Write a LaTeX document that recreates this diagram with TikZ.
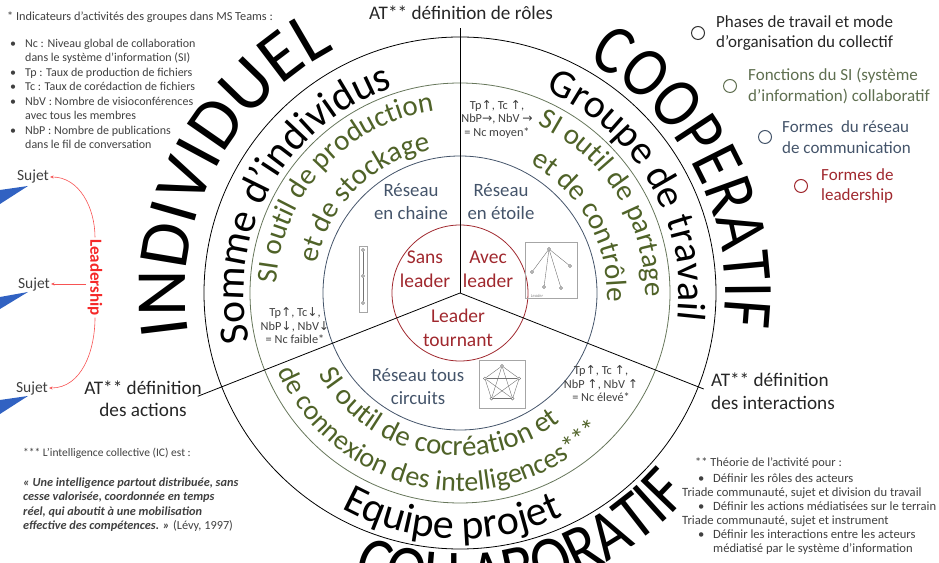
\documentclass[tikz,border=0pt]{standalone}
\usepackage{fontspec}
\setmainfont{Carlito}
\newfontfamily\wordfont[FakeStretch=0.86]{Carlito}
\newfontfamily\arrowfont{DejaVu Sans}
\usetikzlibrary{positioning,calc,arrows.meta,decorations.text}

\definecolor{sigreen}{HTML}{4F6228}
\definecolor{ringgreen}{HTML}{66765A}
\definecolor{leggreen}{HTML}{5F6F50}
\definecolor{netblue}{HTML}{44546A}
\definecolor{leadred}{HTML}{A0282E}
\definecolor{shipred}{HTML}{F52828}
\definecolor{smallgray}{HTML}{404040}
\definecolor{triblue}{HTML}{3162C2}

\newcommand\ringcaps{\wordfont\fontsize{71}{71}\selectfont}
\newcommand\arUp{{\arrowfont\char"2191}}
\newcommand\arDn{{\arrowfont\char"2193}}
\newcommand\arRt{{\arrowfont\char"2192}}
\newcommand\bul{\makebox[15pt][l]{\textbullet}}

\begin{document}
\begin{tikzpicture}[x=1pt, y=1pt,
  ring/.style={line width=0.8pt},
  divider/.style={line width=0.8pt},
  arctext/.style={decorate, decoration={text along path, text align=center}},
  atlabel/.style={font=\fontsize{19.2}{22.5}\selectfont, text=black!85, inner sep=0pt},
  smalltext/.style={font=\fontsize{12}{14.5}\selectfont, text=smallgray, inner sep=0pt, align=left},
  legdot/.style={circle, draw, line width=1pt, minimum size=13pt, inner sep=0pt},
  legtext/.style={font=\fontsize{17}{20.5}\selectfont, align=left, inner sep=0pt},
  leadtext/.style={font=\fontsize{19.5}{24}\selectfont, text=leadred, align=center, inner sep=0pt},
  nettext/.style={font=\fontsize{18.8}{23}\selectfont, text=netblue, align=center, inner sep=0pt},
  indic/.style={font=\fontsize{12.3}{13.5}\selectfont, text=smallgray, align=center, inner sep=0pt},
  sujet/.style={font=\fontsize{15.5}{15.5}\selectfont, text=smallgray, inner sep=1pt},
  leadarrow/.style={draw=shipred!80, line width=0.6pt, -{Stealth[length=3.5pt, width=3pt]}},
  iconframe/.style={draw=black!35, line width=0.5pt, inner sep=0pt},
  icondot/.style={circle, draw=black!60, line width=0.4pt, minimum size=3pt, inner sep=0pt},
  iconline/.style={draw=black!55, line width=0.4pt}
]
\useasboundingbox (0,0) rectangle (939,562);
\clip (0,0) rectangle (939,562);
\coordinate (c) at (460,269);

% rings
\draw[ring] (c) circle[radius=256];
\draw[ring, draw=ringgreen] (c) circle[radius=210];
\draw[ring, draw=netblue] (c) circle[radius=137];
\draw[ring, draw=leadred] (c) circle[radius=68];

% dividers
\coordinate (eroles) at ($(c)+(90:265)$);
\coordinate (eactions) at ($(c)+(201.5:282)$);
\coordinate (einter) at ($(c)+(-21.5:262)$);
\draw[divider] (c) -- (eroles);
\draw[divider] (c) -- (eactions);
\draw[divider] (c) -- (einter);

% big words round the outside
\path[arctext, decoration={text={|\fontsize{72}{72}\selectfont|INDIVIDUEL}}] (c) ++(198:274) arc[start angle=198, end angle=108, radius=274];
\path[arctext, decoration={text={|\ringcaps|COOPERATIF}}] (c) ++(72:265) arc[start angle=72, end angle=-18, radius=265];
\path[arctext, decoration={text={|\wordfont\fontsize{70}{70}\selectfont|COLLABORATIF}}] (c) ++(229:306) arc[start angle=229, end angle=339, radius=306];

% outer ring
\path[arctext, decoration={text={|\fontsize{41.5}{41.5}\selectfont|Somme d’individus}}] (c) ++(201:216) arc[start angle=201, end angle=100, radius=216];
\path[arctext, decoration={text={|\fontsize{40}{40}\selectfont|Groupe de travail}}] (c) ++(80:219) arc[start angle=80, end angle=-20, radius=219];
\path[arctext, decoration={text={|\fontsize{42}{42}\selectfont|Equipe projet}}] (c) ++(226:246) arc[start angle=226, end angle=310, radius=246];

% green ring
\path[arctext, decoration={text={|\fontsize{29}{29}\selectfont\color{sigreen}|SI outil de production}}] (c) ++(187.5:184) arc[start angle=187.5, end angle=87.5, radius=184];
\path[arctext, decoration={text={|\fontsize{29}{29}\selectfont\color{sigreen}|et de stockage}}] (c) ++(175:146) arc[start angle=175, end angle=95, radius=146];
\path[arctext, decoration={text={|\fontsize{29}{29}\selectfont\color{sigreen}|SI outil de partage}}] (c) ++(72:185) arc[start angle=72, end angle=-8, radius=185];
\path[arctext, decoration={text={|\fontsize{29}{29}\selectfont\color{sigreen}|et de contrôle}}] (c) ++(69:147) arc[start angle=69, end angle=-11, radius=147];
\path[arctext, decoration={text={|\fontsize{29}{29}\selectfont\color{sigreen}|SI outil de cocréation et}}] (c) ++(196:163) arc[start angle=196, end angle=322, radius=163];
\path[arctext, decoration={text={|\fontsize{28}{28}\selectfont\color{sigreen}|de connexion des intelligences***}}] (c) ++(189:198) arc[start angle=189, end angle=330, radius=198];

% AT labels
\node[atlabel] (roles) at (461,549) {AT** définition de rôles};
\node[atlabel, align=center] (actions) at (143,163) {AT** définition\\des actions};
\node[atlabel, align=left, anchor=west] (inter) at (711,170.5) {AT** définition\\des interactions};

% network and leadership
\node[nettext] (chaine) at (411,360.5) {Réseau\\en chaine};
\node[nettext] (etoile) at (501,360.5) {Réseau\\en étoile};
\node[nettext] (tous) at (418,175.5) {Réseau tous\\circuits};
\node[leadtext] (sans) at (425,292.5) {Sans\\leader};
\node[leadtext] (avec) at (488,292.5) {Avec\\leader};
\node[leadtext] (tourn) at (458,234.5) {Leader\\tournant};

% indicators
\node[indic] (moyen) at (497,443) {Tp\arUp, Tc \arUp,\\NbP\arRt, NbV \arRt\\= Nc moyen*};
\node[indic] (faible) at (295,236) {Tp\arUp, Tc\arDn,\\NbP\arDn, NbV\arDn\\= Nc faible*};
\node[indic] (eleve) at (601,178) {Tp\arUp, Tc \arUp,\\NbP \arUp, NbV \arUp\\= Nc élevé*};

% chain icon
\node[iconframe, minimum width=8pt, minimum height=66pt] (chframe) at (363,283) {};
\node[icondot] (ch1) at (363,312) {};
\node[icondot] (ch2) at (363,286) {};
\node[icondot] (ch3) at (363,259) {};
\draw[iconline] (ch1) -- (ch2) -- (ch3);

% star icon
\node[iconframe, minimum width=52pt, minimum height=56pt] (stframe) at (551,292) {};
\node[icondot] (st0) at (549,313) {};
\foreach \n/\p in {1/{(532,290)}, 2/{(570,296)}, 3/{(544,275)}, 4/{(561,274)}}
  \node[icondot] (st\n) at \p {};
\foreach \n in {1,...,4}
  \draw[iconline] (st0) -- (st\n);
\node[font=\fontsize{4.5}{5}\selectfont\itshape, text=black!45, inner sep=0pt] (stcap) at (537,266) {Leader};

% complete graph icon
\coordinate (kc) at (502,178);
\node[iconframe, minimum width=46pt, minimum height=48pt] (kframe) at (kc) {};
\foreach \i in {1,...,5}
  \node[icondot] (k\i) at ($(kc)+(18+72*\i:18)$) {};
\foreach \a/\b in {1/2,1/3,1/4,1/5,2/3,2/4,2/5,3/4,3/5,4/5}
  \draw[iconline] (k\a) -- (k\b);

% legend
\node[legdot, draw=black!80] (d1) at (698,529) {};
\node[legtext, right=11pt of d1, text=black!85] (l1) {Phases de travail et mode\\d’organisation du collectif};
\node[legdot, draw=leggreen] (d2) at (730,476) {};
\node[legtext, right=11pt of d2, text=leggreen] (l2) {Fonctions du SI (système\\d’information) collaboratif};
\node[legdot, draw=netblue] (d3) at (765,425) {};
\node[legtext, right=10pt of d3, text=netblue] (l3) {Formes\ \ du réseau\\de communication};
\node[legdot, draw=leadred] (d4) at (801,376) {};
\node[legtext, right=13pt of d4, text=leadred] (l4) {Formes de\\leadership};

% indicator notes
\node[smalltext, anchor=west, font=\fontsize{12.3}{14.5}\selectfont] (indhead) at (7,545) {* Indicateurs d’activités des groupes dans MS Teams :};
\node[smalltext, anchor=west] (indlist) at (10,468) {\bul Nc : Niveau global de collaboration\\
\hspace*{15pt}dans le système d’information (SI)\\
\bul Tp : Taux de production de fichiers\\
\bul Tc : Taux de corédaction de fichiers\\
\bul NbV : Nombre de visioconférences\\
\hspace*{15pt}avec tous les membres\\
\bul NbP : Nombre de publications\\
\hspace*{15pt}dans le fil de conversation};

% collective intelligence note
\node[smalltext, anchor=west, font=\fontsize{11.5}{14.5}\selectfont] (ichead) at (23,109) {*** L’intelligence collective (IC) est :};
\node[smalltext, anchor=west, font=\fontsize{12.3}{14.5}\selectfont] (icquote) at (23,57.5) {\textbf{\textit{« Une intelligence partout distribuée, sans}}\\
\textbf{\textit{cesse valorisée, coordonnée en temps}}\\
\textbf{\textit{réel, qui aboutit à une mobilisation}}\\
\textbf{\textit{effective des compétences. »}} (Lévy, 1997)};

% activity theory note
\node[smalltext, anchor=west, font=\fontsize{12.4}{14}\selectfont] (athead) at (695,99) {** Théorie de l’activité pour :};
\node[smalltext, anchor=west, font=\fontsize{12.6}{14}\selectfont] (atlist) at (682,47.5) {\hspace*{16pt}\bul Définir les rôles des acteurs\\
Triade communauté, sujet et division du travail\\
\hspace*{16pt}\bul Définir les actions médiatisées sur le terrain\\
Triade communauté, sujet et instrument\\
\hspace*{16pt}\bul Définir les interactions entre les acteurs\\
\hspace*{31pt}médiatisé par le système d’information};

% left fragment
\fill[triblue] (0,372) -- (28,376) -- (0,358) -- cycle;
\fill[triblue] (0,265) -- (28,270) -- (0,253) -- cycle;
\fill[triblue] (0,162) -- (28,166) -- (0,148) -- cycle;
\node[sujet] (suj1) at (33,385) {Sujet};
\node[sujet] (suj2) at (34,278) {Sujet};
\node[sujet] (suj3) at (32,174) {Sujet};
\node[font=\fontsize{17}{17}\selectfont\bfseries, text=shipred, rotate=-90, inner sep=1.5pt] (lship) at (95,284.5) {Leadership};
\draw[leadarrow] (lship.west) to[out=90, in=0] (suj1.east);
\draw[leadarrow] (lship.east) to[out=-90, in=0] (suj3.east);
\draw[leadarrow] (lship.south |- suj2.east) -- (suj2.east);
\end{tikzpicture}
\end{document}
